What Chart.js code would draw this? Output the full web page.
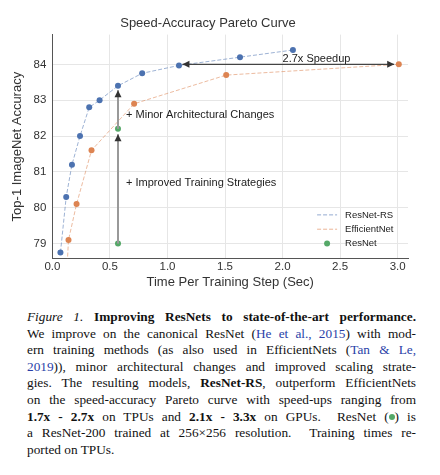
<!DOCTYPE html>
<html><head><meta charset="utf-8">
<script src="https://cdn.jsdelivr.net/npm/chart.js@4"></script>
<style>
body{margin:0;background:#fff;width:440px;height:475px;overflow:hidden}
#wrap{position:relative;width:440px;height:290px}
#cap{position:absolute;left:27px;top:309px;width:389px;font-family:"Liberation Serif",serif;font-size:13.3px;line-height:16.6px;color:#111}
#cap div{text-align:justify;text-align-last:justify;white-space:nowrap}
#cap div.last{text-align-last:left}
a{color:#2a3fa8;text-decoration:none}
.g{display:inline-block;width:6px;height:6px;border-radius:50%;background:#55a868;vertical-align:1px}
</style></head><body>
<div id="wrap"><canvas id="c" width="440" height="290"></canvas></div>
<div id="cap">
<div><i>Figure 1.</i> <b>Improving ResNets to state-of-the-art performance.</b></div>
<div>We improve on the canonical ResNet (<a>He et al., 2015</a>) with mod-</div>
<div>ern training methods (as also used in EfficientNets (<a>Tan &amp; Le,</a></div>
<div><a>2019</a>)), minor architectural changes and improved scaling strate-</div>
<div>gies. The resulting models, <b>ResNet-RS</b>, outperform EfficientNets</div>
<div>on the speed-accuracy Pareto curve with speed-ups ranging from</div>
<div><b>1.7x - 2.7x</b> on TPUs and <b>2.1x - 3.3x</b> on GPUs. &nbsp;ResNet (<span class="g"></span>) is</div>
<div>a ResNet-200 trained at 256×256 resolution. &nbsp;Training times re-</div>
<div class="last">ported on TPUs.</div>
</div>
<script>
const rsTime = [0.07, 0.12, 0.17, 0.24, 0.32, 0.41, 0.57, 0.78, 1.10, 1.63, 2.09];
const rsAcc  = [78.75, 80.3, 81.2, 82.0, 82.8, 83.0, 83.4, 83.75, 83.97, 84.2, 84.4];
const effTime = [0.11, 0.14, 0.21, 0.34, 0.71, 1.51, 3.01];
const effAcc  = [77.3, 79.1, 80.1, 81.6, 82.9, 83.7, 84.0];
const resTime = [0.57, 0.57];
const resAcc  = [79.0, 82.2];
const xTicks = [0, 0.5, 1.0, 1.5, 2.0, 2.5, 3.0];
const yTicks = [79, 80, 81, 82, 83, 84];

const BLUE = '#4c72b0', ORANGE = '#dd8452', GREEN = '#55a868';
const pts = (xs, ys) => xs.map((x, i) => ({ x, y: ys[i] }));
const FONT = '"Liberation Sans", Arial, sans-serif';

function arrowHead(ctx, x, y, dir) {
  ctx.save(); ctx.translate(x, y); ctx.rotate(dir);
  ctx.beginPath(); ctx.moveTo(0, 0); ctx.lineTo(-7, -3.5); ctx.lineTo(-7, 3.5); ctx.closePath(); ctx.fill();
  ctx.restore();
}

const overlay = {
  id: 'overlay',
  afterDatasetsDraw(chart) {
    const { ctx, scales: { x, y } } = chart;
    ctx.save();
    // vertical arrows
    ctx.strokeStyle = '#999'; ctx.fillStyle = '#333'; ctx.lineWidth = 2;
    const vx = x.getPixelForValue(0.57);
    ctx.beginPath(); ctx.moveTo(vx, y.getPixelForValue(79)); ctx.lineTo(vx, y.getPixelForValue(82.05)); ctx.stroke();
    arrowHead(ctx, vx, y.getPixelForValue(82.05), -Math.PI / 2);
    ctx.beginPath(); ctx.moveTo(vx, y.getPixelForValue(82.2)); ctx.lineTo(vx, y.getPixelForValue(83.28)); ctx.stroke();
    arrowHead(ctx, vx, y.getPixelForValue(83.28), -Math.PI / 2);
    // horizontal double arrow
    ctx.strokeStyle = '#444'; ctx.lineWidth = 1.3;
    const hy = y.getPixelForValue(84), x1 = x.getPixelForValue(1.13), x2 = x.getPixelForValue(2.97);
    ctx.beginPath(); ctx.moveTo(x1, hy); ctx.lineTo(x2, hy); ctx.stroke();
    arrowHead(ctx, x1, hy, Math.PI); arrowHead(ctx, x2, hy, 0);
    // labels
    ctx.fillStyle = '#222'; ctx.font = '11px ' + FONT; ctx.textBaseline = 'middle';
    ctx.fillText('2.7x Speedup', x.getPixelForValue(2.0), y.getPixelForValue(84.15));
    ctx.fillText('+ Minor Architectural Changes', x.getPixelForValue(0.64), y.getPixelForValue(82.6));
    ctx.fillText('+ Improved Training Strategies', x.getPixelForValue(0.64), y.getPixelForValue(80.7));
    // legend
    ctx.font = '9.5px ' + FONT;
    const lx = x.getPixelForValue(2.3), items = [['ResNet-RS', BLUE, 79.8], ['EfficientNet', ORANGE, 79.4], ['ResNet', GREEN, 79.0]];
    items.forEach(([t, c, v], i) => {
      const ly = y.getPixelForValue(v);
      if (i < 2) {
        ctx.strokeStyle = c; ctx.globalAlpha = 0.6; ctx.lineWidth = 1; ctx.setLineDash([4, 2]);
        ctx.beginPath(); ctx.moveTo(lx, ly); ctx.lineTo(lx + 20, ly); ctx.stroke(); ctx.setLineDash([]); ctx.globalAlpha = 1;
      } else {
        ctx.fillStyle = c; ctx.beginPath(); ctx.arc(lx + 10, ly, 3, 0, Math.PI * 2); ctx.fill();
      }
      ctx.fillStyle = '#222'; ctx.fillText(t, lx + 28, ly);
    });
    ctx.restore();
  }
};

new Chart(document.getElementById('c'), {
  type: 'scatter',
  data: {
    datasets: [
      { label: 'ResNet-RS', data: pts(rsTime, rsAcc), showLine: true, borderColor: 'rgba(76,114,176,0.55)', borderWidth: 1, borderDash: [4, 2],
        backgroundColor: BLUE, pointBackgroundColor: BLUE, pointBorderWidth: 0, pointRadius: 3 },
      { label: 'EfficientNet', data: pts(effTime, effAcc), showLine: true, borderColor: 'rgba(221,132,82,0.55)', borderWidth: 1, borderDash: [4, 2],
        backgroundColor: ORANGE, pointBackgroundColor: ORANGE, pointBorderWidth: 0, pointRadius: 3 },
      { label: 'ResNet', data: pts(resTime, resAcc), backgroundColor: GREEN, pointBorderWidth: 0, pointRadius: 3 }
    ]
  },
  options: {
    responsive: false, animation: false,
    layout: { padding: { left: 8, right: 32, top: 0, bottom: 0 } },
    plugins: {
      legend: { display: false }, tooltip: { enabled: false },
      title: { display: true, text: 'Speed-Accuracy Pareto Curve', color: '#333', font: { family: FONT, size: 13, weight: 'normal' }, padding: { top: 16, bottom: 3 } }
    },
    scales: {
      x: { type: 'linear', min: 0, max: 3.09,
        afterBuildTicks: s => { s.ticks = xTicks.map(v => ({ value: v })); },
        ticks: { color: '#333', font: { family: FONT, size: 11.5 }, padding: 1, callback: v => v.toFixed(1) },
        grid: { color: '#e6e6e6', drawTicks: false }, border: { color: '#555' },
        title: { display: true, text: 'Time Per Training Step (Sec)', color: '#333', font: { family: FONT, size: 13 }, padding: 0 } },
      y: { min: 78.58, max: 84.83,
        afterBuildTicks: s => { s.ticks = yTicks.map(v => ({ value: v })); },
        ticks: { color: '#333', font: { family: FONT, size: 11.5 }, padding: 6 },
        grid: { color: '#e6e6e6', drawTicks: false }, border: { color: '#555' },
        title: { display: true, text: 'Top-1 ImageNet Accuracy', color: '#333', font: { family: FONT, size: 13 }, padding: 2 } }
    }
  },
  plugins: [overlay]
});
</script>
</body></html>
